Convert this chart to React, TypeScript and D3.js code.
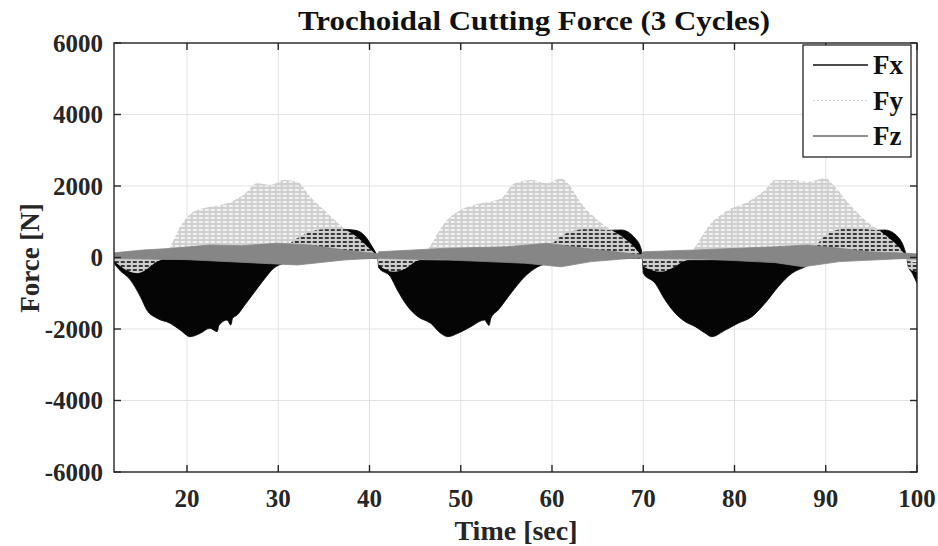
import { useEffect, useRef } from "react";
import * as d3 from "d3";

const WIDTH = 938;
const HEIGHT = 546;
const MARGIN = { top: 43, right: 21, bottom: 74, left: 114 };

type Pt = [number, number];

// envelopes of the oscillating force signals, [time sec, force N]
const fxUpper: Pt[] = [
  [12, -50], [30, -50], [31, 300], [33, 650], [35, 780], [37, 790], [38.5, 760], [39.5, 600], [40.3, 300], [40.9, 0],
  [41, -80], [59, -60], [60, 350], [61.7, 680], [63.9, 790], [66.1, 760], [67.6, 770], [69.1, 540], [69.8, 210], [69.9, 0],
  [70, -80], [88.5, -60], [89.2, 400], [91.4, 770], [93.2, 820], [95.4, 760], [96.5, 770], [97.9, 580], [98.6, 260], [98.9, 0],
  [99, -100], [100, -150],
];
const fxLower: Pt[] = [
  [12, -160], [12.5, -320], [13.8, -630], [14.9, -1100], [15.6, -1470], [16.7, -1700], [18.15, -1840], [19.25, -2030],
  [20.35, -2215], [21.45, -2120], [22.5, -1980], [23.3, -2075], [23.5, -1900], [24.4, -1750], [24.8, -1890], [25, -1700],
  [25.5, -1610], [26.2, -1375], [27.3, -1000], [28.4, -630], [29.5, -300], [30.6, -160], [31.5, -80], [33, -60], [40.9, -20],
  [41, -280], [42.3, -540], [43.05, -910], [44.2, -1375], [45.3, -1655], [46.7, -1840], [47.8, -2120], [48.6, -2215],
  [49.7, -2120], [51.1, -1935], [52.6, -1750], [53.1, -1900], [53.3, -1700], [54.1, -1470], [55.5, -1000], [57, -540],
  [58.45, -260], [59.5, -160], [60.5, -80], [69.9, -20],
  [70, -440], [71.3, -720], [72.4, -1190], [73.5, -1560], [74.6, -1795], [75.7, -1935], [76.8, -2120], [77.5, -2215],
  [79, -2030], [80.4, -1840], [81.9, -1655], [83.35, -1280], [84.8, -815], [86.3, -440], [87.75, -260], [88.5, -160],
  [89.5, -80], [98.9, -20],
  [99, -220], [99.5, -450], [100, -720],
];
const fyUpper: Pt[] = [
  [12, 50], [17.5, 100], [18.15, 300], [19.25, 860], [20.7, 1280], [22.5, 1420], [24.4, 1520], [26.2, 1750], [27.7, 2075],
  [29.1, 2030], [30.6, 2170], [32.1, 2120], [33.5, 1700], [35.4, 1240], [37.2, 820], [38.7, 560], [39.8, 300], [40.9, 60],
  [41, 50], [46, 100], [46.7, 350], [48.2, 960], [50, 1330], [52.2, 1515], [54.4, 1650], [55.9, 2075], [57.7, 2170],
  [59.5, 2075], [61, 2215], [61.75, 2075], [63.2, 1515], [65, 1050], [66.5, 770], [67.6, 600], [68.8, 350], [69.9, 60],
  [70, 50], [75, 100], [75.7, 300], [77.1, 860], [79.3, 1330], [81.5, 1560], [83.35, 1890], [84.45, 2170], [86.3, 2170],
  [88.1, 2120], [89.95, 2215], [91, 1980], [92.5, 1515], [94.3, 1050], [95.8, 770], [96.9, 550], [98, 300], [98.9, 60],
  [99, 80], [100, 80],
];
const fyLower: Pt[] = [
  [12, -100], [13, -300], [14.5, -440], [15.5, -350], [16.5, -150], [17.5, -50], [40.9, -30],
  [41, -200], [42.7, -400], [44, -300], [45, -120], [46, -50], [69.9, -30],
  [70, -250], [72, -400], [73.5, -250], [74.5, -100], [75.5, -50], [98.9, -30],
  [99, -300], [100, -400],
];
const fzUpper: Pt[] = [
  [12, 130], [15.2, 210], [18, 250], [22.5, 350], [26, 330], [29.9, 400], [33.5, 350], [37.2, 210], [40.5, 120], [40.9, 100],
  [41, 160], [48.6, 260], [55, 300], [59.5, 400], [63.5, 260], [67, 160], [69.8, 70],
  [70, 160], [75.7, 210], [84.5, 300], [88, 350], [91.5, 260], [94.8, 160], [98.9, 117],
  [99, 120], [100, 100],
];
const fzLower: Pt[] = [
  [12, -30], [20, -60], [29.6, -180], [32.1, -210], [37.2, -70], [40.9, -15],
  [41, -25], [48.6, -70], [57, -160], [61, -260], [64.3, -115], [69.8, 0],
  [70, -25], [77.1, -50], [84.5, -145], [87.5, -260], [91.5, -115], [98.9, -25],
  [99, -40], [100, -40],
];

const xTicks = [20, 30, 40, 50, 60, 70, 80, 90, 100];
const yTicks = [-6000, -4000, -2000, 0, 2000, 4000, 6000];
const legendNames = ["Fx", "Fy", "Fz"];

const FONT = '"Liberation Serif", "Times New Roman", serif';
const AXIS = "#262626";

export default function App() {
  const ref = useRef<SVGSVGElement>(null);

  useEffect(() => {
    const svg = d3.select(ref.current);
    svg.selectAll("*").remove();

    const x = d3.scaleLinear().domain([12, 100]).range([MARGIN.left, WIDTH - MARGIN.right]);
    const y = d3.scaleLinear().domain([-6000, 6000]).range([HEIGHT - MARGIN.bottom, MARGIN.top]);
    const [x0, x1] = x.range();
    const [y0, y1] = y.range();

    // dotted look of Fy: light grey with transparent holes
    const defs = svg.append("defs");
    defs
      .append("pattern")
      .attr("id", "fyPat")
      .attr("patternUnits", "userSpaceOnUse")
      .attr("width", 6)
      .attr("height", 4)
      .append("path")
      .attr("d", "M0 0H6V4H0Z M0.8 1.3H4.8V2.7H0.8Z")
      .attr("fill-rule", "evenodd")
      .attr("fill", "#cfcfcf");
    defs.append("clipPath").attr("id", "plotClip")
      .append("rect").attr("x", x0).attr("y", y1).attr("width", x1 - x0).attr("height", y0 - y1);

    svg.append("rect").attr("width", WIDTH).attr("height", HEIGHT).attr("fill", "#fff");

    // grid
    const grid = svg.append("g").attr("stroke", "#e3e3e3").attr("stroke-width", 1);
    xTicks.forEach((t) => grid.append("line").attr("x1", x(t)).attr("x2", x(t)).attr("y1", y1).attr("y2", y0));
    yTicks.forEach((t) => grid.append("line").attr("y1", y(t)).attr("y2", y(t)).attr("x1", x0).attr("x2", x1));

    const smooth = d3.line<Pt>().x((d) => x(d[0])).y((d) => y(d[1])).curve(d3.curveMonotoneX);
    const straight = d3.line<Pt>().x((d) => x(d[0])).y((d) => y(d[1]));
    const band = (up: Pt[], lo: Pt[], gen: d3.Line<Pt>) =>
      gen(up) + (gen(lo.slice().reverse()) || "").replace(/^M/, "L") + "Z";

    const plot = svg.append("g").attr("clip-path", "url(#plotClip)");
    plot.append("path").attr("d", band(fxUpper, fxLower, smooth)).attr("fill", "#050505").attr("stroke", "#050505").attr("stroke-width", 0.8);
    plot.append("path").attr("d", band(fyUpper, fyLower, smooth)).attr("fill", "url(#fyPat)");
    plot.append("path").attr("d", band(fzUpper, fzLower, straight)).attr("fill", "#868686").attr("stroke", "#868686").attr("stroke-width", 0.8);

    // box + ticks on all sides
    const ax = svg.append("g").attr("stroke", AXIS).attr("stroke-width", 1.4).attr("fill", "none");
    ax.append("rect").attr("x", x0).attr("y", y1).attr("width", x1 - x0).attr("height", y0 - y1);
    xTicks.forEach((t) => {
      ax.append("line").attr("x1", x(t)).attr("x2", x(t)).attr("y1", y0).attr("y2", y0 - 7);
      ax.append("line").attr("x1", x(t)).attr("x2", x(t)).attr("y1", y1).attr("y2", y1 + 7);
    });
    yTicks.forEach((t) => {
      ax.append("line").attr("y1", y(t)).attr("y2", y(t)).attr("x1", x0).attr("x2", x0 + 7);
      ax.append("line").attr("y1", y(t)).attr("y2", y(t)).attr("x1", x1).attr("x2", x1 - 7);
    });

    const txt = svg.append("g").attr("font-family", FONT).attr("font-weight", "bold").attr("fill", "#262626");
    xTicks.forEach((t) =>
      txt.append("text").attr("x", x(t)).attr("y", 507).attr("text-anchor", "middle").attr("font-size", 25).text(String(t))
    );
    yTicks.forEach((t) =>
      txt.append("text").attr("x", x0 - 11).attr("y", y(t) + 8.5).attr("text-anchor", "end").attr("font-size", 25).text(String(t))
    );
    txt.append("text").attr("x", 516).attr("y", 540).attr("text-anchor", "middle").attr("font-size", 28).text("Time [sec]");
    txt.append("text").attr("transform", "translate(39,258) rotate(-90)").attr("text-anchor", "middle").attr("font-size", 27).text("Force [N]");
    txt.append("text").attr("x", 534).attr("y", 30).attr("text-anchor", "middle").attr("font-size", 28)
      .attr("textLength", 472).attr("lengthAdjust", "spacingAndGlyphs").attr("fill", "#111")
      .text("Trochoidal Cutting Force (3 Cycles)");

    // legend
    const lg = svg.append("g");
    lg.append("rect").attr("x", 803).attr("y", 45).attr("width", 108).attr("height", 112)
      .attr("fill", "#fff").attr("stroke", AXIS).attr("stroke-width", 1.3);
    const legendStyle = [
      { stroke: "#111", dash: null, w: 1.6 },
      { stroke: "#cfcfcf", dash: "2,2", w: 1.2 },
      { stroke: "#6a6a6a", dash: null, w: 1.3 },
    ];
    legendNames.forEach((name, i) => {
      const cy = 65 + i * 35.5;
      const s = legendStyle[i];
      const l = lg.append("line").attr("x1", 813).attr("x2", 868).attr("y1", cy).attr("y2", cy)
        .attr("stroke", s.stroke).attr("stroke-width", s.w);
      if (s.dash) l.attr("stroke-dasharray", s.dash);
      lg.append("text").attr("x", 873).attr("y", cy + 9).attr("font-family", FONT).attr("font-weight", "bold")
        .attr("font-size", 27).attr("fill", "#111").text(name);
    });
  }, []);

  return (
    <svg ref={ref} width={WIDTH} height={HEIGHT} style={{ position: "absolute", left: 0, top: 0 }} />
  );
}
